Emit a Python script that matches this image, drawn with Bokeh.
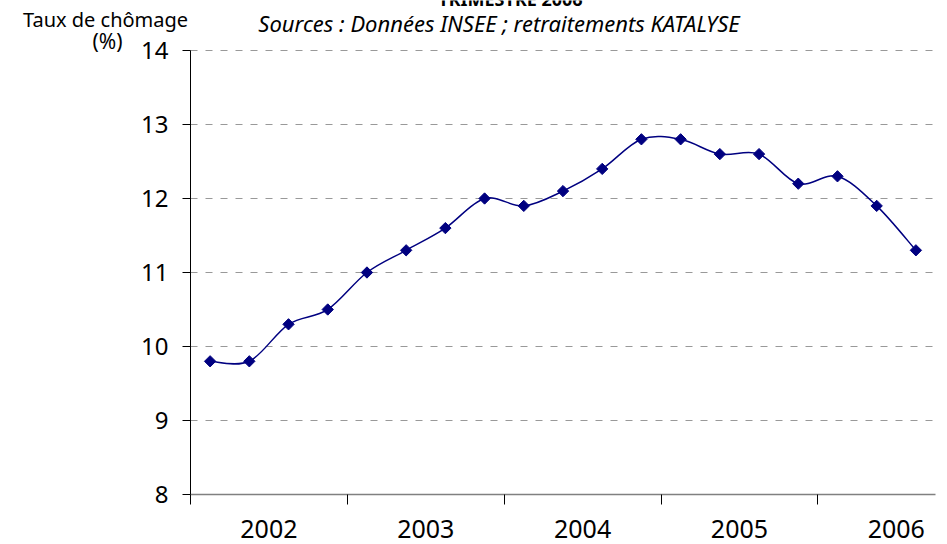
from bokeh.plotting import figure
from bokeh.models import FixedTicker, Label, Range1d, Grid
from bokeh.embed import file_html
from bokeh.resources import INLINE
import math

# ---- data ----
years = ["2002", "2003", "2004", "2005", "2006"]
quarters_per_year = 4
rate = [9.8, 9.8, 10.3, 10.5, 11.0, 11.3, 11.6, 12.0, 11.9, 12.1,
        12.4, 12.8, 12.8, 12.6, 12.6, 12.2, 12.3, 11.9, 11.3]
y_ticks = [8, 9, 10, 11, 12, 13, 14]
title_text = "TRIMESTRE 2006"
subtitle_text = "Sources : Données INSEE ; retraitements KATALYSE"
ylabel_lines = ["Taux de chômage", "(%)"]

FONT = "Noto Sans"
NAVY = "#000080"
GRID = "#999999"

n = len(rate)
xs = [i + 0.5 for i in range(n)]
y_min, y_max = y_ticks[0], y_ticks[-1]

# canvas and plotting-area box (pixels)
W, H = 947, 544
FL, FR, FT, FB = 190, 935, 50, 494
ppx = (FR - FL) / n
ppy = (FB - FT) / (y_max - y_min)

def X(px):
    return (px - FL) / ppx

def Y(py):
    return y_max - (py - FT) / ppy

p = figure(width=W, height=H, output_backend="svg", toolbar_location=None,
           x_range=Range1d(X(0), X(W)), y_range=Range1d(Y(H), Y(0)),
           min_border_left=0, min_border_right=0,
           min_border_top=0, min_border_bottom=0)
p.title.visible = False
p.outline_line_color = None
p.background_fill_color = "white"
p.border_fill_color = "white"
p.xgrid.visible = False

# horizontal dashed grid lines limited to the data area
grid_ticks = y_ticks[1:]
if "cross_bounds" in Grid.properties():
    p.ygrid.ticker = FixedTicker(ticks=grid_ticks)
    p.ygrid.cross_bounds = (0, n)
    p.ygrid.grid_line_color = GRID
    p.ygrid.grid_line_dash = "7 8"
    p.ygrid.grid_line_width = 1
else:
    p.ygrid.visible = False
    p.segment(x0=[0] * len(grid_ticks), y0=grid_ticks,
              x1=[n] * len(grid_ticks), y1=grid_ticks,
              line_color=GRID, line_dash="7 8", line_width=1)

# y axis
ya = p.yaxis[0]
ya.fixed_location = 0
ya.bounds = (y_min, y_max)
ya.ticker = FixedTicker(ticks=y_ticks)
ya.axis_line_color = "black"
ya.major_tick_line_color = "black"
ya.major_tick_out = 8
ya.major_tick_in = 0
ya.minor_tick_line_color = None
ya.major_label_standoff = 14
ya.major_label_text_font = FONT
ya.major_label_text_font_size = "24px"
ya.major_label_text_color = "black"

# x axis: year labels centred, boundary ticks as minor ticks
xa = p.xaxis[0]
xa.fixed_location = y_min
xa.bounds = (0, n)
label_pos = [k * quarters_per_year + 2 for k in range(len(years))]
bounds = [k * quarters_per_year for k in range(len(years))]
xa.ticker = FixedTicker(ticks=label_pos, minor_ticks=bounds)
xa.major_label_overrides = {pos: yr for pos, yr in zip(label_pos, years)}
xa.axis_line_color = "#808080"
xa.axis_line_width = 1.5
xa.major_tick_out = 0
xa.major_tick_in = 0
xa.major_tick_line_color = None
xa.minor_tick_out = 10
xa.minor_tick_in = 0
xa.minor_tick_line_color = "black"
xa.major_label_standoff = 15
xa.major_label_text_font = FONT
xa.major_label_text_font_size = "25px"
xa.major_label_text_color = "black"

# smoothed line (Bezier segments derived from the data points)
x0, y0, x1, y1, cx0, cy0, cx1, cy1 = ([] for _ in range(8))
for i in range(n - 1):
    a = max(i - 1, 0)
    d = min(i + 2, n - 1)
    x0.append(xs[i]); y0.append(rate[i])
    x1.append(xs[i + 1]); y1.append(rate[i + 1])
    cx0.append(xs[i] + (xs[i + 1] - xs[a]) / 6)
    cy0.append(rate[i] + (rate[i + 1] - rate[a]) / 6)
    cx1.append(xs[i + 1] - (xs[d] - xs[i]) / 6)
    cy1.append(rate[i + 1] - (rate[d] - rate[i]) / 6)
p.bezier(x0=x0, y0=y0, x1=x1, y1=y1, cx0=cx0, cy0=cy0, cx1=cx1, cy1=cy1,
         line_color=NAVY, line_width=1.5)

p.scatter(xs, rate, marker="square", angle=math.pi / 4, size=8,
          fill_color=NAVY, line_color=NAVY)

# titles
p.add_layout(Label(x=X(510), y=Y(-2), text=title_text,
                   text_font=FONT, text_font_size="18px", text_font_style="bold",
                   text_color="black", text_align="center",
                   text_baseline="alphabetic"))
p.add_layout(Label(x=X(498.5), y=Y(22), text=subtitle_text,
                   text_font=FONT, text_font_size="22px", text_font_style="italic",
                   text_color="black", text_align="center",
                   text_baseline="alphabetic"))

# y axis title (two lines)
p.add_layout(Label(x=X(105), y=Y(19), text=ylabel_lines[0],
                   text_font=FONT, text_font_size="20px", text_color="black",
                   text_align="center", text_baseline="alphabetic"))
p.add_layout(Label(x=X(107), y=Y(40), text=ylabel_lines[1],
                   text_font=FONT, text_font_size="21px", text_color="black",
                   text_align="center", text_baseline="alphabetic"))

open("out.html", "w").write(file_html(p, INLINE))
